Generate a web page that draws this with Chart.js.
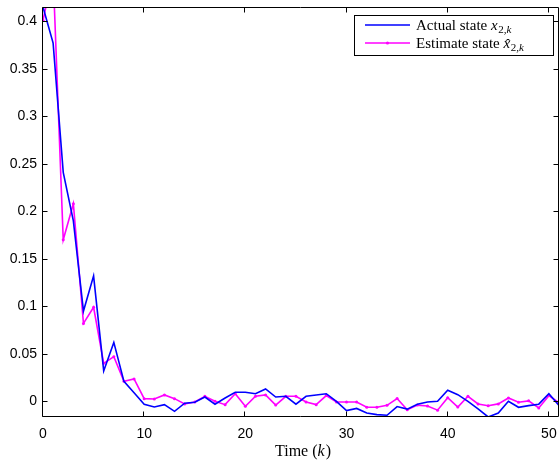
<!DOCTYPE html>
<html>
<head>
<meta charset="utf-8">
<title>State estimate</title>
<script src="https://cdn.jsdelivr.net/npm/chart.js@4.4.1/dist/chart.umd.min.js"></script>
<style>
  html, body { margin: 0; padding: 0; background: #fff; overflow: hidden; }
  #wrap { position: relative; width: 563px; height: 462px; }
</style>
</head>
<body>
<div id="wrap"><canvas id="stateChart"></canvas></div>
<script>
// time steps k
var steps = [0, 1, 2, 3, 4, 5, 6, 7, 8, 9, 10, 11, 12, 13, 14, 15, 16, 17, 18, 19, 20,
  21, 22, 23, 24, 25, 26, 27, 28, 29, 30, 31, 32, 33, 34, 35, 36, 37, 38, 39, 40,
  41, 42, 43, 44, 45, 46, 47, 48, 49, 50, 51];

// actual state x_{2,k}
var actualState = [0.415, 0.377, 0.241, 0.19, 0.095, 0.132, 0.032, 0.062, 0.021, 0.009,
  -0.003, -0.006, -0.0035, -0.0105, -0.002, -0.001, 0.0045, -0.003, 0.0035, 0.0095,
  0.0095, 0.008, 0.013, 0.0045, 0.0053, -0.003, 0.0053, 0.0067, 0.008, 0,
  -0.0098, -0.0075, -0.0123, -0.014, -0.0147, -0.0055, -0.0082, -0.003, -0.0007, 0,
  0.0116, 0.007, 0, -0.008, -0.0165, -0.0123, 0, -0.0063, -0.0045, -0.003,
  0.008, -0.0044];

// estimated state \hat{x}_{2,k}
var estimateState = [0.401, 0.45, 0.17, 0.208, 0.082, 0.099, 0.04, 0.047, 0.021, 0.0236,
  0.0028, 0.0025, 0.0067, 0.0028, -0.0028, -0.0007, 0.0053, 0, -0.0035, 0.008,
  -0.0053, 0.0053, 0.0067, -0.004, 0.0053, 0.0053, -0.0007, -0.0035, 0.006, -0.0007,
  -0.0007, -0.0007, -0.0062, -0.0063, -0.0042, 0.003, -0.009, -0.004, -0.005, -0.0093,
  0.0038, -0.006, 0.0053, -0.0028, -0.0046, -0.0027, 0.0035, -0.001, 0.0005, -0.007,
  0.006, -0.0016];

var xTicks = [0, 10, 20, 30, 40, 50];
var yTicks = [0, 0.05, 0.1, 0.15, 0.2, 0.25, 0.3, 0.35, 0.4];

var xMin = 0, xMax = 51;
var yMin = -0.0165, yMax = 0.415;

function toPoints(values) {
  return values.map(function(v, i) { return { x: steps[i], y: v }; });
}

// box, inward ticks, legend and x label
var framePlugin = {
  id: 'frame',
  afterDraw: function(chart) {
    var ctx = chart.ctx;
    var a = chart.chartArea;
    var xs = chart.scales.x, ys = chart.scales.y;
    var L = Math.round(a.left) - 0.5, R = Math.round(a.right) - 0.5;
    var T = Math.round(a.top) + 0.5, B = Math.round(a.bottom) - 0.5;
    ctx.save();
    ctx.strokeStyle = '#000';
    ctx.lineWidth = 1;
    ctx.beginPath();
    ctx.moveTo(L, T); ctx.lineTo(R, T); ctx.lineTo(R, B); ctx.lineTo(L, B); ctx.closePath();
    xTicks.forEach(function(v) {
      var px = Math.round(xs.getPixelForValue(v)) - 0.5;
      ctx.moveTo(px, B); ctx.lineTo(px, B - 5);
      ctx.moveTo(px, T); ctx.lineTo(px, T + 5);
    });
    yTicks.forEach(function(v) {
      var py = Math.round(ys.getPixelForValue(v)) + 0.5;
      ctx.moveTo(L, py); ctx.lineTo(L + 5, py);
      ctx.moveTo(R, py); ctx.lineTo(R - 5, py);
    });
    ctx.stroke();

    // legend
    var lx = 354.5, ly = 15.5, lw = 199, lh = 40;
    ctx.fillStyle = '#fff';
    ctx.fillRect(lx, ly, lw, lh);
    ctx.strokeRect(lx, ly, lw, lh);

    var rows = [
      { label: 'Actual state ', color: '#0000ff', y: 25, hat: false, dot: false },
      { label: 'Estimate state ', color: '#ff00ff', y: 43, hat: true, dot: true }
    ];
    rows.forEach(function(r) {
      ctx.strokeStyle = r.color;
      ctx.lineWidth = 1.6;
      ctx.beginPath();
      ctx.moveTo(365, r.y); ctx.lineTo(410, r.y);
      ctx.stroke();
      if (r.dot) {
        ctx.fillStyle = r.color;
        ctx.beginPath();
        ctx.arc(387.5, r.y, 1.6, 0, Math.PI * 2);
        ctx.fill();
      }
      var base = r.y + 5;
      var tx = 416;
      ctx.fillStyle = '#000';
      ctx.textAlign = 'left';
      ctx.textBaseline = 'alphabetic';
      ctx.font = '15px "Liberation Serif"';
      ctx.fillText(r.label, tx, base);
      tx += ctx.measureText(r.label).width;
      ctx.font = 'italic 15px "Liberation Serif"';
      ctx.fillText('x', tx, base);
      var xw = ctx.measureText('x').width;
      if (r.hat) {
        ctx.font = '15px "Liberation Serif"';
        var hw = ctx.measureText('\u02C6').width;
        ctx.fillText('\u02C6', tx + xw / 2 - hw / 2 + 1.2, base + 0.5);
      }
      tx += xw + 0.5;
      ctx.font = '11px "Liberation Serif"';
      ctx.fillText('2,', tx, base + 3);
      tx += ctx.measureText('2,').width;
      ctx.font = 'italic 11px "Liberation Serif"';
      ctx.fillText('k', tx, base + 3);
    });

    // x axis title: Time (k)
    var parts = [
      { t: 'Time (', f: '16px "Liberation Serif"' },
      { t: 'k', f: 'italic 16px "Liberation Serif"' },
      { t: ')', f: '16px "Liberation Serif"' }
    ];
    var total = 0;
    parts.forEach(function(p) { ctx.font = p.f; p.w = ctx.measureText(p.t).width; total += p.w; });
    var cx = 302.5 - total / 2;
    ctx.fillStyle = '#000';
    parts.forEach(function(p) {
      ctx.font = p.f;
      ctx.fillText(p.t, cx, 455.5);
      cx += p.w + (p.t === 'k' ? 1 : 0);
    });
    ctx.restore();
  }
};

var tickFont = { family: '"Liberation Sans", Arial, sans-serif', size: 14 };

new Chart(document.getElementById('stateChart'), {
  type: 'line',
  data: {
    datasets: [
      {
        label: 'Actual state',
        data: toPoints(actualState),
        borderColor: '#0000ff',
        backgroundColor: '#0000ff',
        borderWidth: 1.6,
        pointRadius: 0,
        tension: 0,
        fill: false
      },
      {
        label: 'Estimate state',
        data: toPoints(estimateState),
        borderColor: '#ff00ff',
        backgroundColor: '#ff00ff',
        borderWidth: 1.6,
        pointRadius: 1.5,
        pointBorderWidth: 0,
        pointStyle: 'circle',
        tension: 0,
        fill: false
      }
    ]
  },
  options: {
    responsive: true,
    maintainAspectRatio: false,
    animation: false,
    events: [],
    layout: { padding: { left: 0, right: 0, top: 7, bottom: 0 } },
    plugins: {
      legend: { display: false },
      tooltip: { enabled: false }
    },
    scales: {
      x: {
        type: 'linear',
        min: xMin,
        max: xMax,
        grid: { display: false, drawTicks: false },
        border: { display: false },
        afterBuildTicks: function(scale) {
          scale.ticks = xTicks.map(function(v) { return { value: v }; });
        },
        afterFit: function(scale) {
          scale.height = 45;
          scale.paddingLeft = 0;
          scale.paddingRight = 0;
        },
        ticks: {
          color: '#000',
          font: tickFont,
          padding: 9,
          maxRotation: 0,
          callback: function(v) { return String(v); }
        }
      },
      y: {
        type: 'linear',
        min: yMin,
        max: yMax,
        grid: { display: false, drawTicks: false },
        border: { display: false },
        afterBuildTicks: function(scale) {
          scale.ticks = yTicks.map(function(v) { return { value: v }; });
        },
        afterFit: function(scale) {
          scale.width = 43;
          scale.paddingTop = 0;
          scale.paddingBottom = 0;
        },
        ticks: {
          color: '#000',
          font: tickFont,
          padding: 6,
          callback: function(v) { return String(v); }
        }
      }
    }
  },
  plugins: [framePlugin]
});
</script>
</body>
</html>
